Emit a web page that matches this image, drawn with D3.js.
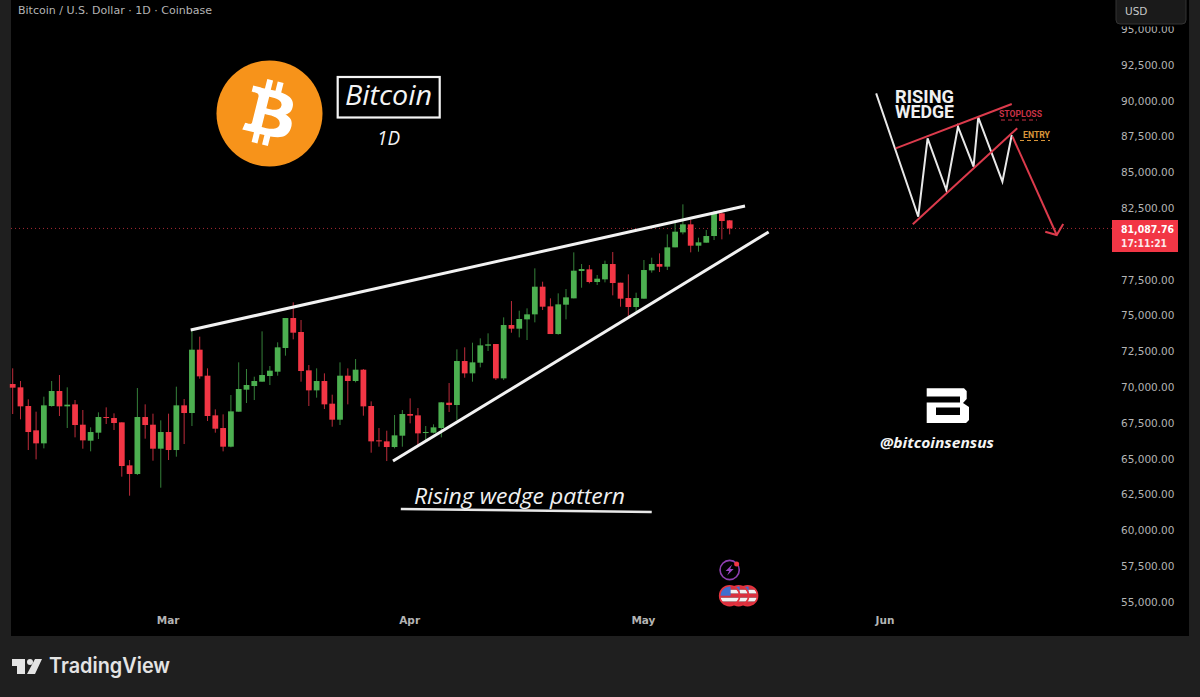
<!DOCTYPE html>
<html>
<head>
<meta charset="utf-8">
<title>Bitcoin rising wedge</title>
<script src="https://cdn.jsdelivr.net/npm/d3@7"></script>
<style>
  html, body { margin: 0; padding: 0; background: #1f1f1f; }
  svg { display: block; }
  text { font-family: "DejaVu Sans", sans-serif; }
  .axis path, .axis line { display: none; }
  .axis text { fill: #b4b4b4; }
</style>
</head>
<body>
<div id="chart"></div>
<script>
// Daily candles, first one is Feb 9
const firstDay = Date.UTC(2025, 1, 9);

const opens = [
  70222,69990,68686,66987,66079,68686,69734,68663,68802,67382,
  66265,66824,67918,67848,67545,64542,63937,67918,67382,65706,
  66870,65613,68733,68197,72620,70804,68034,67149,65846,68290,
  69827,70082,70385,70781,71083,72736,74831,73854,71177,69780,
  70432,68849,67731,70804,70432,71223,68686,66288,66218,65822,
  66614,68127,68034,66800,66823,67149,68918,68755,71828,70967,
  71712,72899,73016,70617,74342,74086,74737,75087,77019,75645,
  73713,75762,76204,78113,78229,77345,77531,78602,77298,76227,
  75599,76181,78160,78602,78416,79766,80813,81372,79882,80092,
  80557,82140,81652
];
const highs = [
  71317,70432,69152,68290,69338,70432,70851,69990,69105,68407,
  67196,68244,68593,68174,67545,64915,69943,68802,68151,67685,
  68151,70036,69175,73947,73528,71317,68453,68104,69454,71736,
  71270,70734,73900,71479,73132,74831,75926,74692,71549,71316,
  70967,69477,71735,71316,71968,71270,69011,67149,66963,68057,
  68406,69221,68546,67289,67405,68965,70292,72643,72783,73109,
  73411,73761,73016,74877,76018,75343,75506,78299,77368,76204,
  76553,76856,79417,78602,78532,77834,78835,79440,77298,77880,
  76600,78881,79044,79347,80674,81675,82769,81675,80441,80976,
  82327,82257,81675
];
const lows = [
  68127,67755,65613,64961,65729,68639,67988,67149,66498,65706,
  65520,66381,67429,67010,63751,62424,63867,66405,64868,62982,
  64915,65147,66032,67289,70595,67638,66824,65520,65799,68290,
  68895,69105,70385,70152,70804,72201,73342,70385,68686,69268,
  68476,67242,67359,68802,70338,68010,65426,65845,64844,65729,
  65845,67475,65845,66311,66777,66497,68267,67708,70664,70385,
  71386,72527,70501,70500,73806,73480,73294,74528,75389,73713,
  73666,74737,76204,76949,77252,77135,77321,76414,75622,74924,
  75273,76181,77997,78043,78183,79766,80674,79417,79463,80092,
  80278,80325,80674
];
const closes = [
  69966,68663,66870,66079,68733,69734,68663,68779,67359,66288,
  66870,67918,67871,67499,64496,63937,67918,67359,65706,66870,
  65613,68733,68197,72620,70758,67988,67103,65846,68313,69873,
  70153,70432,70851,71153,72783,74831,73807,71130,69780,70432,
  68802,67731,70804,70432,71223,68662,66218,66241,65822,66637,
  68127,68010,66777,66870,67196,68942,68755,71828,70967,71735,
  72923,72992,70618,74342,74086,74761,75087,77019,75622,73713,
  75785,76274,78136,78253,77345,77578,78602,77275,76181,75599,
  76227,78183,78602,78416,79766,80860,81372,79882,80115,80557,
  82187,81605,81087.76
];

// 80,000 sits under the last price label in the picture, so it is left out
const priceTicks = [55000,57500,60000,62500,65000,67500,70000,72500,75000,77500,82500,85000,87500,90000,92500,95000];
const monthTicks = [Date.UTC(2025,2,1), Date.UTC(2025,3,1), Date.UTC(2025,4,1), Date.UTC(2025,5,1)];
const lastPrice = 81087.76;
const countdown = "17:11:21";

// Drawn lines as [day index, price]
const wedgeTop = [[22.84,73994],[93.97,82653]];
const wedgeBottom = [[48.8,64846],[97.0,80837]];
const patternUnderline = [[49.8,61494],[82.0,61285]];

// Small sketch at top right, same units
const sketchPath = [[110.8,90522],[116.2,81906],[117.4,87380],[119.8,83770],[121.3,88190],[123.3,85397],[123.9,88847],[127.0,84350],[128.2,87610]];
const sketchTop = [[113.3,86682],[128.2,89775]];
const sketchBottom = [[115.5,81375],[128.9,88079]];
const sketchDrop = [[128.3,87492],[133.97,80628]];
const sketchHead = [[132.5,80858],[133.97,80628],[134.8,81396]];

// Economic event markers at the bottom
const flagDays = [94.3, 93.15, 92];
const boltDay = 92;

const width = 1200, height = 697;
const plot = { left: 11, right: 1189, top: 0, bottom: 636 };

const day = i => new Date(firstDay + i * 864e5);

const x = d3.scaleUtc()
  .domain([day(0), day(135)])
  .range([12.7, 12.7 + 135 * 7.793]);

const y = d3.scaleLinear()
  .domain([55000, 95000])
  .range([602, 29.2]);

const svg = d3.select("#chart").append("svg")
  .attr("width", width)
  .attr("height", height);

svg.append("rect").attr("width", width).attr("height", height).attr("fill", "#1f1f1f");
svg.append("rect")
  .attr("x", plot.left).attr("y", plot.top)
  .attr("width", plot.right - plot.left).attr("height", plot.bottom - plot.top)
  .attr("fill", "#000");

// Last price dotted line
svg.append("line")
  .attr("x1", plot.left).attr("x2", 1112)
  .attr("y1", y(lastPrice)).attr("y2", y(lastPrice))
  .attr("stroke", "#a62a36").attr("stroke-width", 1)
  .attr("stroke-dasharray", "1 3");

// Candles
const bodyWidth = (x(day(1)) - x(day(0))) * 0.74;
const color = i => closes[i] >= opens[i] ? "#4caf50" : "#f23645";
const wickColor = i => closes[i] >= opens[i] ? "#35803a" : "#bd2c3b";

const candles = svg.append("g").selectAll("g").data(opens).join("g");

candles.append("line")
  .attr("x1", (d, i) => x(day(i))).attr("x2", (d, i) => x(day(i)))
  .attr("y1", (d, i) => y(highs[i])).attr("y2", (d, i) => y(lows[i]))
  .attr("stroke", (d, i) => wickColor(i)).attr("stroke-width", 1);

candles.append("rect")
  .attr("x", (d, i) => x(day(i)) - bodyWidth / 2)
  .attr("y", (d, i) => y(Math.max(opens[i], closes[i])))
  .attr("width", bodyWidth)
  .attr("height", (d, i) => Math.max(1, Math.abs(y(opens[i]) - y(closes[i]))))
  .attr("fill", (d, i) => color(i));

// Hand drawn lines
const line = d3.line().x(d => x(day(d[0]))).y(d => y(d[1]));

function drawLine(points, stroke, strokeWidth) {
  svg.append("path")
    .attr("d", line(points))
    .attr("fill", "none")
    .attr("stroke", stroke)
    .attr("stroke-width", strokeWidth)
    .attr("stroke-linejoin", "miter");
}

drawLine(wedgeTop, "#f2f2f2", 3);
drawLine(wedgeBottom, "#f2f2f2", 3);
drawLine(patternUnderline, "#e8e8e8", 2.5);

drawLine(sketchPath, "#e8e8e8", 2);
drawLine(sketchTop, "#dc3b4c", 2);
drawLine(sketchBottom, "#dc3b4c", 2);
drawLine(sketchDrop, "#dc3b4c", 2);
drawLine(sketchHead, "#dc3b4c", 2);

function addText(str, px, py, size, fill, opts) {
  opts = opts || {};
  const t = svg.append("text")
    .attr("x", px).attr("y", py)
    .attr("font-size", size)
    .attr("fill", fill)
    .text(str);
  if (opts.family) t.style("font-family", opts.family);
  if (opts.weight) t.attr("font-weight", opts.weight);
  if (opts.italic) t.attr("font-style", "italic");
  if (opts.anchor) t.attr("text-anchor", opts.anchor);
  if (opts.length) t.attr("textLength", opts.length).attr("lengthAdjust", "spacingAndGlyphs");
  return t;
}

// Sketch labels
addText("RISING", 895, 102.5, 17.5, "#f0f0f0", { family: "Roboto", weight: 700, length: 59 });
addText("WEDGE", 895, 117.5, 17.5, "#f0f0f0", { family: "Roboto", weight: 700, length: 59 });
addText("STOPLOSS", 999, 117, 8.5, "#c93246", { family: "Roboto", weight: 700, length: 43 });
addText("ENTRY", 1023, 138, 8.5, "#d8963a", { family: "Roboto", weight: 700, length: 27 });
svg.append("line").attr("x1", 1001).attr("x2", 1037).attr("y1", 120).attr("y2", 120)
  .attr("stroke", "#c93246").attr("stroke-width", 1).attr("stroke-dasharray", "4 3");
svg.append("line").attr("x1", 1020).attr("x2", 1050).attr("y1", 140.5).attr("y2", 140.5)
  .attr("stroke", "#d8963a").attr("stroke-width", 1).attr("stroke-dasharray", "4 3");

// Bitcoin logo
svg.append("circle").attr("cx", 269.5).attr("cy", 113.5).attr("r", 53).attr("fill", "#f7931a");
svg.append("path")
  .attr("transform", "translate(216.5,60.5) scale(1.656)")
  .attr("fill", "#fff")
  .attr("d", "M46.11 27.441c.636-4.258-2.606-6.547-7.039-8.074l1.438-5.768-3.512-.875-1.4 5.616c-.922-.23-1.87-.447-2.812-.662l1.41-5.653-3.509-.875-1.439 5.766c-.764-.174-1.514-.346-2.242-.527l.004-.018-4.842-1.209-.934 3.75s2.605.597 2.55.634c1.422.355 1.68 1.296 1.636 2.042l-1.638 6.571c.098.025.225.061.365.117l-.37-.092-2.297 9.205c-.174.432-.615 1.08-1.609.834.035.051-2.552-.637-2.552-.637l-1.743 4.02 4.57 1.139c.85.213 1.683.436 2.502.646l-1.453 5.835 3.507.875 1.44-5.772c.957.26 1.887.5 2.797.726L27.504 50.8l3.511.875 1.453-5.823c5.987 1.133 10.49.676 12.383-4.738 1.527-4.36-.075-6.875-3.225-8.516 2.294-.531 4.022-2.04 4.483-5.157zM38.087 38.69c-1.086 4.36-8.426 2.004-10.807 1.412l1.928-7.729c2.38.594 10.011 1.77 8.88 6.317zm1.085-11.312c-.99 3.966-7.1 1.951-9.083 1.457l1.748-7.01c1.983.494 8.367 1.416 7.335 5.553z");

svg.append("rect")
  .attr("x", 337.7).attr("y", 77).attr("width", 102).attr("height", 40.5)
  .attr("fill", "none").attr("stroke", "#f4f4f4").attr("stroke-width", 2.2);
addText("Bitcoin", 345, 105, 28, "#f4f4f4", { family: "Open Sans", weight: 500, italic: true, length: 87 });
addText("1D", 377, 145, 20, "#f4f4f4", { family: "Open Sans", weight: 500, italic: true, length: 23 });

addText("Rising wedge pattern", 414, 504, 22, "#f0f0f0", { family: "Open Sans", weight: 500, italic: true, length: 211 });

// Watermark
svg.append("path")
  .attr("fill", "#fff")
  .attr("fill-rule", "evenodd")
  .attr("d", "M926.7 388.3H964L966.7 391V399L963 403L969 407V420L966 423H926.7V402.5H960V396.5H926.7ZM936 407.5V415H960V407.5Z");
addText("@bitcoinsensus", 880, 448, 14, "#f4f4f4", { family: "Open Sans", weight: 700, italic: true, length: 114 });

// Event markers
const flagClip = svg.append("defs");
flagDays.forEach((d, i) => {
  const cx = x(day(d)), cy = 595.7, r = 10;
  flagClip.append("clipPath").attr("id", "flag" + i)
    .append("circle").attr("cx", cx).attr("cy", cy).attr("r", r);
  const g = svg.append("g");
  g.append("circle").attr("cx", cx).attr("cy", cy).attr("r", r).attr("fill", "#000");
  const stripes = g.append("g").attr("clip-path", "url(#flag" + i + ")");
  d3.range(5).forEach(k => {
    stripes.append("rect")
      .attr("x", cx - r).attr("y", cy - r + k * 4)
      .attr("width", 2 * r).attr("height", 4)
      .attr("fill", k % 2 ? "#f2f2f2" : "#d9303f");
  });
  stripes.append("rect")
    .attr("x", cx - r).attr("y", cy - r)
    .attr("width", r + 1).attr("height", r)
    .attr("fill", "#3f6fd0");
  g.append("circle").attr("cx", cx).attr("cy", cy).attr("r", r)
    .attr("fill", "none").attr("stroke", "#e5343f").attr("stroke-width", 1.6);
});

svg.append("circle").attr("cx", x(day(boltDay))).attr("cy", 570).attr("r", 9.6)
  .attr("fill", "#000").attr("stroke", "#8e3fb0").attr("stroke-width", 1.6);
svg.append("path")
  .attr("transform", "translate(" + x(day(boltDay)) + ",570)")
  .attr("fill", "#9a45c2")
  .attr("d", "M2.5 -5.5L-4 1H-0.5L-2.5 5.5L4 -1H0.5Z");
svg.append("circle").attr("cx", x(day(boltDay)) + 7).attr("cy", 564).attr("r", 2.5).attr("fill", "#f23645");

// Axes
const yAxis = d3.axisRight(y)
  .tickValues(priceTicks)
  .tickFormat(d3.format(",.2f"))
  .tickSize(0)
  .tickPadding(0);

svg.append("g")
  .attr("class", "axis")
  .attr("transform", "translate(1121,0)")
  .style("font-family", "DejaVu Sans")
  .call(yAxis)
  .selectAll("text")
  .attr("font-size", 10.5);

const xAxis = d3.axisBottom(x)
  .tickValues(monthTicks.map(d => new Date(d)))
  .tickFormat(d3.utcFormat("%b"))
  .tickSize(0)
  .tickPadding(0);

svg.append("g")
  .attr("class", "axis")
  .attr("transform", "translate(-1,617)")
  .style("font-family", "DejaVu Sans")
  .call(xAxis)
  .selectAll("text")
  .attr("font-size", 10.5)
  .attr("font-weight", 600);

// Top left title and USD button
addText("Bitcoin / U.S. Dollar · 1D · Coinbase", 18, 14, 11, "#b4b4b4", { length: 194 });

// The button hides the top of the 95,000 label
svg.append("rect")
  .attr("x", 1116).attr("y", 23).attr("width", 70).attr("height", 3.5)
  .attr("fill", "#000");
svg.append("rect")
  .attr("x", 1116).attr("y", -6).attr("width", 70).attr("height", 30).attr("rx", 4)
  .attr("fill", "#1a1a1a").attr("stroke", "#333").attr("stroke-width", 1);
addText("USD", 1125, 15, 10.5, "#c8c8c8");

// Last price label
svg.append("rect")
  .attr("x", 1112).attr("y", 220).attr("width", 66).attr("height", 32)
  .attr("fill", "#f23645");
addText(d3.format(",.2f")(lastPrice), 1121, 233, 10.5, "#fff", { weight: 700, length: 53 });
addText(countdown, 1121, 247, 10.5, "#fde8ea", { weight: 700, length: 46 });

// TradingView logo
svg.append("path")
  .attr("fill", "#e4e4e4")
  .attr("d", "M12 659H25V674H17V666H12ZM35 659H42L35 674H27Z");
svg.append("circle").attr("cx", 30).attr("cy", 662).attr("r", 3).attr("fill", "#e4e4e4");
addText("TradingView", 49, 673, 21, "#e4e4e4", { family: "Inter", weight: 600, length: 121 });
</script>
</body>
</html>
